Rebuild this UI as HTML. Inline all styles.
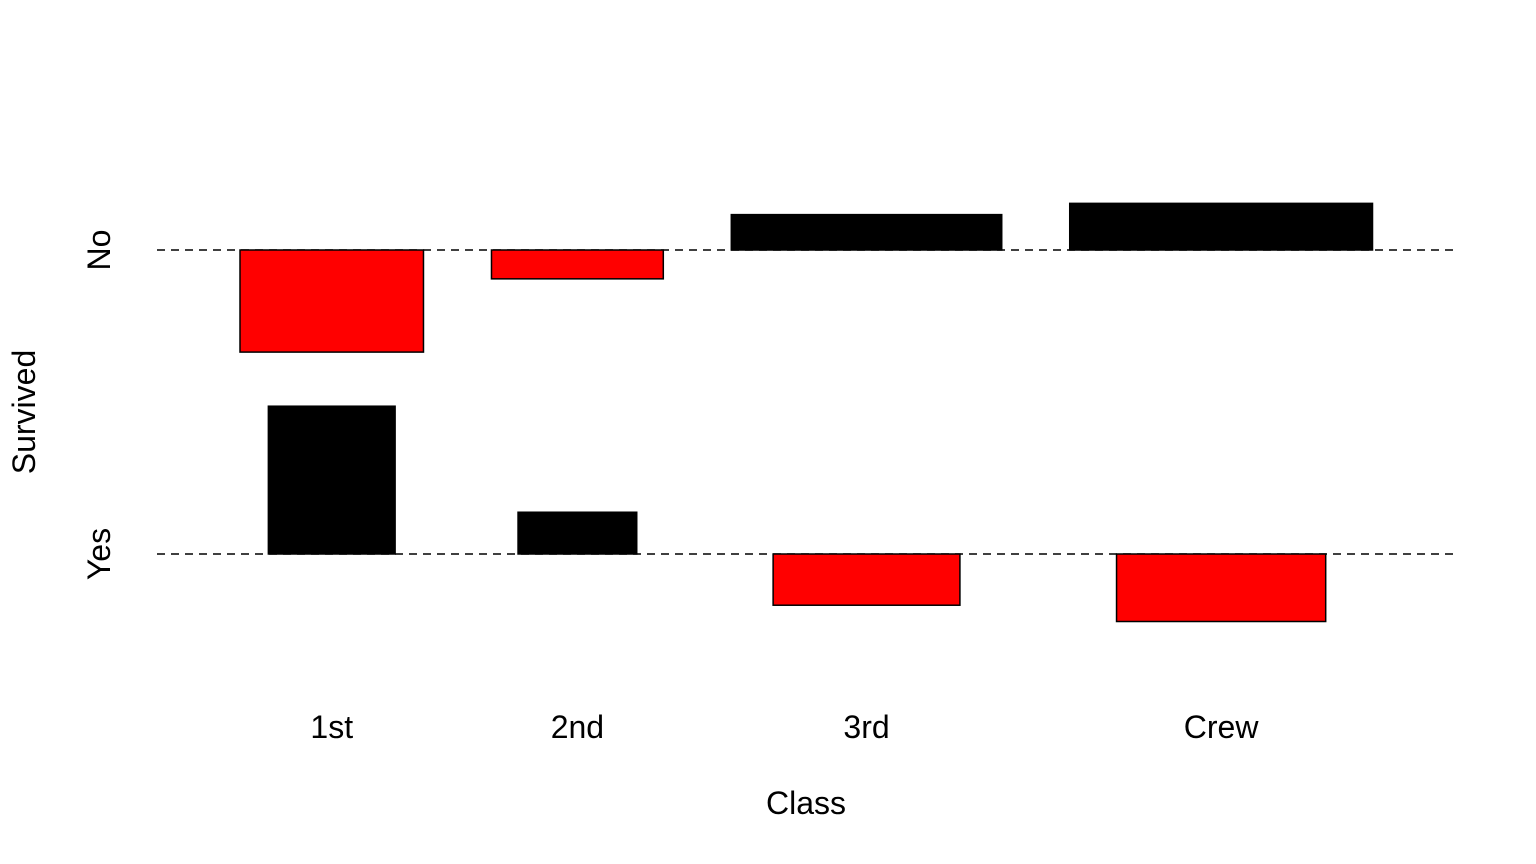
<!DOCTYPE html>
<html><head><meta charset="utf-8"><style>
html,body{margin:0;padding:0;background:#fff}
svg{display:block}
text{font-family:"Liberation Sans",Arial,sans-serif;font-size:32px;fill:#000}
</style></head><body>
<svg id="chart" width="1536" height="864" xmlns="http://www.w3.org/2000/svg"></svg>
<script>
const classes = ["1st","2nd","3rd","Crew"];
const survived = ["No","Yes"];
const observedNo = [122,167,528,673];
const observedYes = [203,118,178,212];

const NS="http://www.w3.org/2000/svg";
const svg=document.getElementById('chart');
function mk(tag,attrs){const e=document.createElementNS(NS,tag);for(const k in attrs)e.setAttribute(k,attrs[k]);svg.appendChild(e);return e;}

const obs=[observedNo,observedYes];
const colTot=classes.map((c,i)=>observedNo[i]+observedYes[i]);
const rowTot=obs.map(r=>r.reduce((a,b)=>a+b,0));
const N=rowTot[0]+rowTot[1];
const expd=obs.map((r,ri)=>r.map((v,ci)=>rowTot[ri]*colTot[ci]/N));
const resid=obs.map((r,ri)=>r.map((v,ci)=>(v-expd[ri][ci])/Math.sqrt(expd[ri][ci])));

const wScale=12.37, hScale=15.45, gap=68, x0=240;
const baseY=[250,554];
function yPos(ri,r){return baseY[ri]-r*hScale;}

baseY.forEach((y,ri)=>{
  const l=mk('line',{x1:157,x2:1456,y1:y,y2:y,stroke:'#000','stroke-width':1.5,'stroke-dasharray':'8,6'});
  
  
});

let x=x0;
classes.forEach((c,ci)=>{
  const widths=[0,1].map(ri=>Math.sqrt(expd[ri][ci])*wScale);
  const colW=Math.max(...widths);
  const cx=x+colW/2;
  [0,1].forEach(ri=>{
    const w=widths[ri], r=resid[ri][ci];
    const y1=yPos(ri,r), y0=baseY[ri];
    const rect=mk('rect',{x:cx-w/2,y:Math.min(y0,y1),width:w,height:Math.abs(y1-y0),
      fill:r>0?'#000':'#ff0000',stroke:'#000','stroke-width':1.5});
    
    
  });
  const t=mk('text',{x:cx,y:738,'text-anchor':'middle'});
  t.textContent=c;
  
  
  x+=colW+gap;
});

survived.forEach((s,ri)=>{
  const t=mk('text',{x:0,y:0,'text-anchor':'middle',transform:`translate(110,${baseY[ri]}) rotate(-90)`});
  t.textContent=s;
  
  
});

const xt=mk('text',{x:806,y:814,'text-anchor':'middle'});
xt.textContent='Class';


const yt=mk('text',{x:0,y:0,'text-anchor':'middle',transform:'translate(35,412) rotate(-90)'});
yt.textContent='Survived';


</script>
</body></html>
